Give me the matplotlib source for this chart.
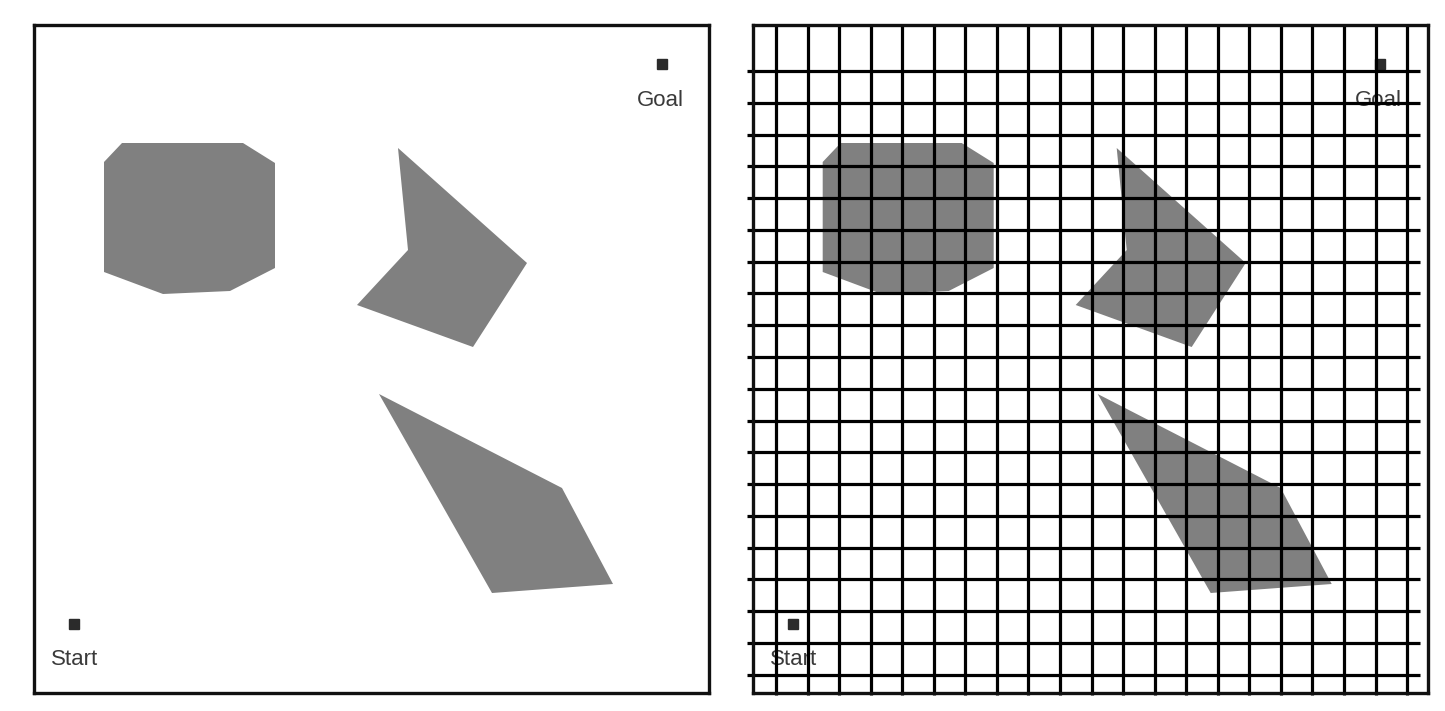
import matplotlib
matplotlib.use("Agg")
import matplotlib.pyplot as plt
from matplotlib.patches import Polygon

# World coordinates (same for both panels): x right, y up, box 675 x 668
box_w, box_h = 675, 668

octagon = [(88, 550), (209, 550), (241, 530), (241, 425), (196, 402), (129, 399), (70, 421), (70, 531)]
arrow = [(364, 545), (493, 430), (439, 346), (323, 388), (374, 443)]
quad = [(345, 299), (528, 205), (579, 109), (458, 100)]
obstacles = [octagon, arrow, quad]

goal_xy = (627.5, 629.5)
start_xy = (40, 69)
goal_label = "Goal"
start_label = "Start"
goal_text_xy = (626, 587)
start_text_xy = (41, 28)

grid_x = [23.3, 54.9, 86.4, 118.0, 149.5, 181.1, 212.6, 244.2, 275.7, 307.3, 338.8,
          370.4, 401.9, 433.5, 465.0, 496.6, 528.1, 559.7, 591.2, 622.8, 654.3]
grid_y = [622, 590.2, 558.5, 526.7, 494.9, 463.2, 431.4, 399.6, 367.8, 336.1, 304.3,
          272.5, 240.8, 209.0, 177.2, 145.5, 113.7, 81.9, 50.1, 18.4]

W, H = 1445, 711
fig = plt.figure(figsize=(W / 100, H / 100), dpi=100)
fig.patch.set_facecolor("white")

panel_left_px = [34, 752.7]
bottom_px = 711 - 693

axes = []
for lp in panel_left_px:
    ax = fig.add_axes([lp / W, bottom_px / H, box_w / W, box_h / H])
    ax.set_xlim(0, box_w)
    ax.set_ylim(0, box_h)
    ax.set_xticks([])
    ax.set_yticks([])
    for s in ax.spines.values():
        s.set_linewidth(2.4)
        s.set_color("#111111")
        s.set_zorder(6)
    for poly in obstacles:
        ax.add_patch(Polygon(poly, closed=True, facecolor="#808080", edgecolor="none", zorder=2))
    ax.plot([goal_xy[0]], [goal_xy[1]], marker="s", ms=6.5, color="#2b2b2b", zorder=4)
    ax.plot([start_xy[0]], [start_xy[1]], marker="s", ms=6.5, color="#2b2b2b", zorder=4)
    ax.text(goal_text_xy[0], goal_text_xy[1], goal_label, ha="center", va="baseline",
            fontsize=16, family="Liberation Sans", color="#3a3a3a", zorder=4)
    ax.text(start_text_xy[0], start_text_xy[1], start_label, ha="center", va="baseline",
            fontsize=16, family="Liberation Sans", color="#3a3a3a", zorder=4)
    axes.append(ax)

ax2 = axes[1]
for gx in grid_x:
    ax2.plot([gx, gx], [-2, box_h], color="black", lw=2.3, solid_capstyle="butt",
             clip_on=False, zorder=5)
for gy in grid_y:
    ax2.plot([-5.7, 667.3], [gy, gy], color="black", lw=2.3, solid_capstyle="butt",
             clip_on=False, zorder=5)

fig.savefig("out.png", dpi=100, facecolor="white")
